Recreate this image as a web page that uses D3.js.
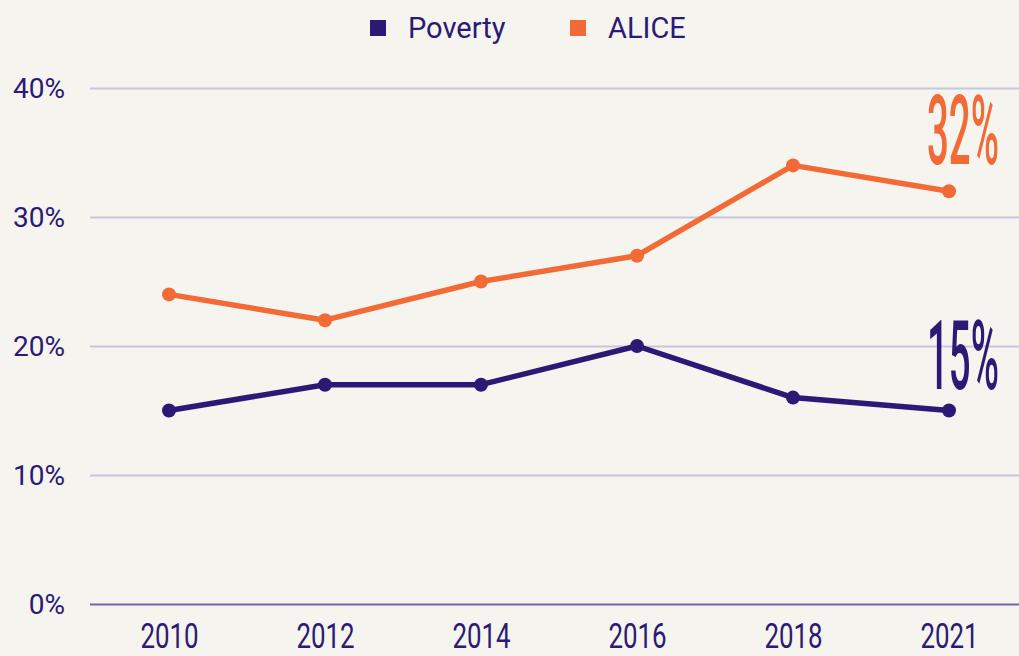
<!DOCTYPE html>
<html>
<head>
<meta charset="utf-8">
<script src="https://cdn.jsdelivr.net/npm/d3@7"></script>
<style>
  html, body { margin: 0; padding: 0; background: #f5f4ee; }
  svg { display: block; }
</style>
</head>
<body>
<div id="chart"></div>
<script>
// chart data
const years = ['2010', '2012', '2014', '2016', '2018', '2021'];
const povertyValues = [15, 17, 17, 20, 16, 15];
const aliceValues = [24, 22, 25, 27, 34, 32];
const yTicks = [0, 10, 20, 30, 40];
const seriesNames = ['Poverty', 'ALICE'];

const width = 1019, height = 656;
const navy = '#2a1a76';
const orange = '#f26b36';

const svg = d3.select('#chart')
  .append('svg')
  .attr('width', width)
  .attr('height', height)
  .style('background-color', '#f5f4ee');

// scales
const x = d3.scalePoint().domain(years).range([91, 1027]).padding(0.5);
const y = d3.scaleLinear().domain([0, 40]).range([604, 88]);

// gridlines + y labels
const yAxis = d3.axisLeft(y)
  .tickValues(yTicks)
  .tickSize(-(width - 90))
  .tickFormat(d => d + '%');

const gy = svg.append('g')
  .attr('transform', 'translate(90,0)')
  .call(yAxis);
gy.select('.domain').remove();
gy.selectAll('.tick line')
  .attr('stroke', d => d === 0 ? '#6f68a8' : '#c9c6dc')
  .attr('stroke-width', 2);
gy.selectAll('.tick text')
  .attr('x', -25)
  .attr('dy', '0.35em')
  .attr('fill', navy)
  .attr('font-family', 'Roboto, sans-serif')
  .attr('font-size', 28)
  .attr('text-anchor', 'end');

// x labels (condensed)
const xAxis = d3.axisBottom(x).tickSize(0);
const gx = svg.append('g')
  .attr('transform', 'translate(0,604)')
  .call(xAxis);
gx.select('.domain').remove();
gx.selectAll('.tick text')
  .attr('fill', navy)
  .attr('font-family', 'Roboto, sans-serif')
  .attr('font-size', 35)
  .attr('y', 0)
  .attr('dy', 0)
  .attr('transform', 'translate(0,44) scale(0.74,1)');

// lines
const line = d3.line()
  .x((d, i) => x(years[i]))
  .y(d => y(d));

const series = [
  { name: seriesNames[0], values: povertyValues, color: navy },
  { name: seriesNames[1], values: aliceValues, color: orange }
];

series.forEach(s => {
  svg.append('path')
    .datum(s.values)
    .attr('fill', 'none')
    .attr('stroke', s.color)
    .attr('stroke-width', 5.5)
    .attr('stroke-linejoin', 'round')
    .attr('d', line);

  svg.append('g')
    .selectAll('circle')
    .data(s.values)
    .enter()
    .append('circle')
    .attr('cx', (d, i) => x(years[i]))
    .attr('cy', d => y(d))
    .attr('r', 7)
    .attr('fill', s.color);
});

// end labels, tall condensed
const last = years.length - 1;
const endLabels = [
  { text: aliceValues[last] + '%', color: orange, ty: y(aliceValues[last]) - 27 },
  { text: povertyValues[last] + '%', color: navy, ty: y(povertyValues[last]) - 22 }
];
endLabels.forEach(l => {
  svg.append('text')
    .text(l.text)
    .attr('fill', l.color)
    .attr('font-family', 'Roboto, sans-serif')
    .attr('font-size', 96)
    .attr('font-weight', 500)
    .attr('text-anchor', 'middle')
    .attr('transform', `translate(${x(years[last]) + 14},${l.ty}) scale(0.40,1)`);
});

// legend
const legend = svg.append('g');
const legendItems = [
  { name: seriesNames[0], color: navy, x: 370 },
  { name: seriesNames[1], color: orange, x: 570 }
];
legendItems.forEach(item => {
  legend.append('rect')
    .attr('x', item.x)
    .attr('y', 20)
    .attr('width', 16)
    .attr('height', 16)
    .attr('fill', item.color);
  legend.append('text')
    .attr('x', item.x + 38)
    .attr('y', 38)
    .attr('fill', navy)
    .attr('font-family', 'Roboto, sans-serif')
    .attr('font-size', 29)
    .text(item.name);
});
</script>
</body>
</html>
